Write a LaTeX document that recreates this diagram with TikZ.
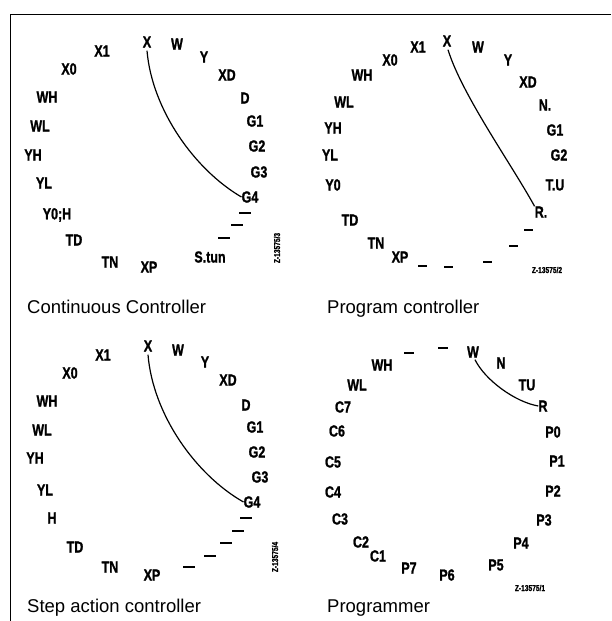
\documentclass[tikz,border=0pt]{standalone}
\usepackage{fontspec}
\setmainfont{Liberation Sans}
\newfontfamily\labfont[FakeStretch=0.78,FakeBold=1.3,UprightFont=* Bold]{Liberation Sans}
\begin{document}
\begin{tikzpicture}[x=1pt,y=-1pt,
  lab/.style={inner sep=0pt,anchor=center,font=\labfont\fontsize{16}{16}\selectfont},
  code/.style={inner sep=0pt,anchor=center,font=\labfont\fontsize{8.5}{8.5}\selectfont},
  captxt/.style={inner sep=0pt,anchor=base west,font=\fontsize{18.5}{18.5}\selectfont},
  tick/.style={line width=1.5pt},
  wire/.style={line width=1.2pt},
  frame/.style={line width=1.3pt}]
\useasboundingbox (0,0) rectangle (611,621);
% frame
\coordinate (ftr) at (611,14.5);
\coordinate (ftl) at (10.5,14.5);
\coordinate (fbl) at (10.5,621);
\draw[frame] (ftr) -- (ftl) -- (fbl);

% ===== Panel 1: Continuous Controller =====
\node[lab] (a-x)  at (147,42) {X};
\node[lab] (a-w)  at (177,44) {W};
\node[lab] (a-y)  at (204,57) {Y};
\node[lab] (a-xd) at (227,75) {XD};
\node[lab] (a-d)  at (245,98) {D};
\node[lab] (a-g1) at (255,121) {G1};
\node[lab] (a-g2) at (257,146) {G2};
\node[lab] (a-g3) at (259,172) {G3};
\node[lab] (a-g4) at (250,197) {G4};
\node[lab] (a-st) at (210,257) {S.tun};
\node[lab] (a-xp) at (149,267) {XP};
\node[lab] (a-tn) at (110,262) {TN};
\node[lab] (a-td) at (74,240) {TD};
\node[lab] (a-y0) at (57,215) {Y0;H};
\node[lab] (a-yl) at (44,183) {YL};
\node[lab] (a-yh) at (33,155) {YH};
\node[lab] (a-wl) at (40,126) {WL};
\node[lab] (a-wh) at (47,97) {WH};
\node[lab] (a-x0) at (69,69) {X0};
\node[lab] (a-x1) at (102,51) {X1};
\node[code,rotate=90] (a-code) at (277,248) {Z-13575/3};
\node[captxt] (a-cap) at (27,313) {Continuous Controller};
\coordinate (a-t1) at (239,213);
\coordinate (a-t2) at (231,225);
\coordinate (a-t3) at (218,238);
\foreach \t in {a-t1,a-t2,a-t3} \draw[tick] (\t) -- ++(12,0);
\draw[wire] (a-x.south) ++(0,3) coordinate (a-s) (a-s) .. controls (152,110) and (195,170) .. (a-g4.west);

% ===== Panel 2: Program controller =====
\node[lab] (b-x)  at (447,41) {X};
\node[lab] (b-w)  at (478,47) {W};
\node[lab] (b-y)  at (508,60) {Y};
\node[lab] (b-xd) at (528,82) {XD};
\node[lab] (b-n)  at (545,105) {N.};
\node[lab] (b-g1) at (555,130) {G1};
\node[lab] (b-g2) at (559,155) {G2};
\node[lab] (b-tu) at (555,185) {T.U};
\node[lab] (b-r)  at (541,212) {R.};
\node[lab] (b-xp) at (400,257) {XP};
\node[lab] (b-tn) at (376,243) {TN};
\node[lab] (b-td) at (350,220) {TD};
\node[lab] (b-y0) at (333,185) {Y0};
\node[lab] (b-yl) at (330,155) {YL};
\node[lab] (b-yh) at (333,128) {YH};
\node[lab] (b-wl) at (344,102) {WL};
\node[lab] (b-wh) at (362,75) {WH};
\node[lab] (b-x0) at (390,60) {X0};
\node[lab] (b-x1) at (418,47) {X1};
\node[code] (b-code) at (547,270) {Z-13575/2};
\node[captxt] (b-cap) at (327,313) {Program controller};
\coordinate (b-t1) at (524,230);
\coordinate (b-t2) at (509,246);
\coordinate (b-t3) at (483,262);
\coordinate (b-t4) at (444,267);
\coordinate (b-t5) at (418,266);
\foreach \t in {b-t1,b-t2,b-t3,b-t4,b-t5} \draw[tick] (\t) -- ++(9,0);
\draw[wire] (b-x.south) ++(1,3) coordinate (b-s) (b-s) .. controls (462,95) and (512,165) .. (b-r.north west);

% ===== Panel 3: Step action controller =====
\node[lab] (c-x)  at (148,346) {X};
\node[lab] (c-w)  at (178,350) {W};
\node[lab] (c-y)  at (205,362) {Y};
\node[lab] (c-xd) at (228,380) {XD};
\node[lab] (c-d)  at (246,405) {D};
\node[lab] (c-g1) at (255,427) {G1};
\node[lab] (c-g2) at (257,452) {G2};
\node[lab] (c-g3) at (260,477) {G3};
\node[lab] (c-g4) at (252,502) {G4};
\node[lab] (c-xp) at (152,575) {XP};
\node[lab] (c-tn) at (110,567) {TN};
\node[lab] (c-td) at (75,547) {TD};
\node[lab] (c-h)  at (52,518) {H};
\node[lab] (c-yl) at (45,490) {YL};
\node[lab] (c-yh) at (35,458) {YH};
\node[lab] (c-wl) at (42,430) {WL};
\node[lab] (c-wh) at (47,401) {WH};
\node[lab] (c-x0) at (70,373) {X0};
\node[lab] (c-x1) at (103,355) {X1};
\node[code,rotate=90] (c-code) at (275,557) {Z-13575/4};
\node[captxt] (c-cap) at (27,612) {Step action controller};
\coordinate (c-t1) at (240,518);
\coordinate (c-t2) at (232,531);
\coordinate (c-t3) at (220,543);
\coordinate (c-t4) at (204,556);
\coordinate (c-t5) at (183,567);
\foreach \t in {c-t1,c-t2,c-t3,c-t4,c-t5} \draw[tick] (\t) -- ++(12,0);
\draw[wire] (c-x.south) ++(0,3) coordinate (c-s) (c-s) .. controls (153,415) and (196,475) .. (c-g4.west);

% ===== Panel 4: Programmer =====
\node[lab] (d-w)  at (473,352) {W};
\node[lab] (d-n)  at (501,363) {N};
\node[lab] (d-tu) at (527,385) {TU};
\node[lab] (d-r)  at (543,406) {R};
\node[lab] (d-p0) at (553,432) {P0};
\node[lab] (d-p1) at (557,461) {P1};
\node[lab] (d-p2) at (553,491) {P2};
\node[lab] (d-p3) at (544,520) {P3};
\node[lab] (d-p4) at (521,543) {P4};
\node[lab] (d-p5) at (496,565) {P5};
\node[lab] (d-p6) at (447,575) {P6};
\node[lab] (d-p7) at (409,568) {P7};
\node[lab] (d-c1) at (378,556) {C1};
\node[lab] (d-c2) at (361,542) {C2};
\node[lab] (d-c3) at (340,519) {C3};
\node[lab] (d-c4) at (333,492) {C4};
\node[lab] (d-c5) at (333,462) {C5};
\node[lab] (d-c6) at (337,431) {C6};
\node[lab] (d-c7) at (343,407) {C7};
\node[lab] (d-wl) at (357,385) {WL};
\node[lab] (d-wh) at (382,365) {WH};
\node[code] (d-code) at (530,588) {Z-13575/1};
\node[captxt] (d-cap) at (327,612) {Programmer};
\coordinate (d-t1) at (404,353);
\coordinate (d-t2) at (438,348);
\foreach \t in {d-t1,d-t2} \draw[tick] (\t) -- ++(10,0);
\draw[wire] (d-w.south) ++(2,2) coordinate (d-s) (d-s) .. controls (485,380) and (515,402) .. (d-r.west);
\end{tikzpicture}
\end{document}
